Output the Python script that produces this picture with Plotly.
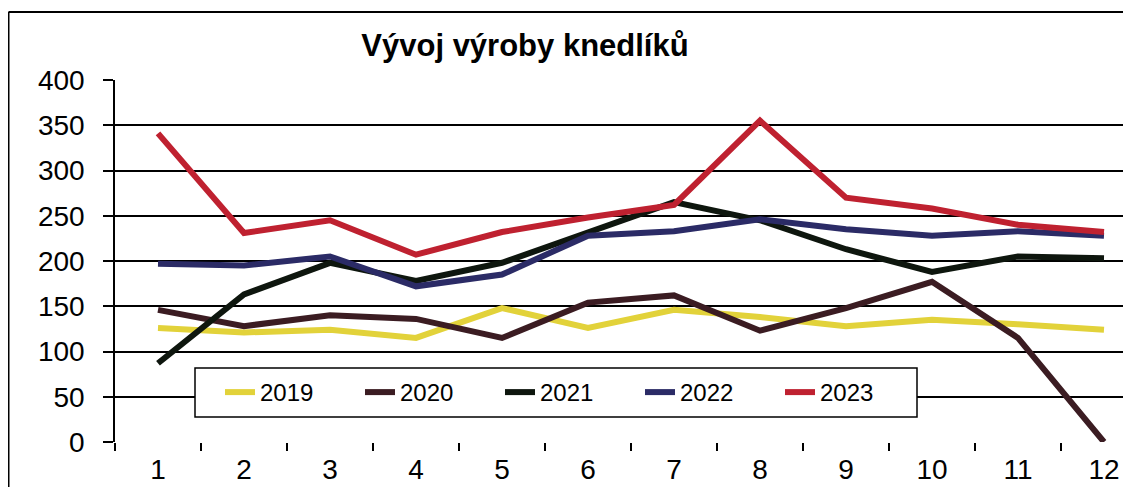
import plotly.graph_objects as go

months = [1, 2, 3, 4, 5, 6, 7, 8, 9, 10, 11, 12]
month_labels = ["1", "2", "3", "4", "5", "6", "7", "8", "9", "10", "11", "12"]

v2019 = [126, 121, 124, 115, 148, 126, 146, 138, 128, 135, 130, 124]
v2020 = [146, 128, 140, 136, 115, 154, 162, 123, 148, 177, 115, 0]
v2021 = [87, 163, 198, 178, 198, 232, 265, 245, 213, 188, 205, 203]
v2022 = [197, 195, 205, 172, 185, 228, 233, 246, 235, 228, 233, 228]
v2023 = [341, 231, 245, 207, 232, 248, 262, 355, 270, 258, 240, 232]

series = [
    ("2019", v2019, "#e2d23a"),
    ("2020", v2020, "#3b1c22"),
    ("2021", v2021, "#0e160e"),
    ("2022", v2022, "#2b2b66"),
    ("2023", v2023, "#bf2130"),
]

fig = go.Figure()
for name, vals, col in series:
    fig.add_trace(go.Scatter(x=months, y=vals, name=name, mode="lines",
                             line=dict(color=col, width=6)))

# page is offset by the 8px body margin; keep the figure inside the window
W, H = 1115, 479
L, T, B, R = 107, 72, 45, 0
pw, ph = W - L - R, H - T - B
SPACING = 86.0

def px_x(x):
    return (x - L) / pw

def px_y(y):
    return (H - B - y) / ph

fig.update_layout(
    width=W, height=H,
    margin=dict(l=L, r=R, t=T, b=B, autoexpand=False),
    paper_bgcolor="white", plot_bgcolor="white",
    font=dict(family="Liberation Sans, Arial, sans-serif", color="black"),
    title=dict(text="<b>Vývoj výroby knedlíků</b>", x=517 / W, xanchor="center",
               y=1 - 37 / H, yanchor="middle", font=dict(size=31, color="black")),
    showlegend=True,
    legend=dict(orientation="h", x=px_x(212), y=px_y(384.5), xanchor="left",
                yanchor="middle", bgcolor="rgba(0,0,0,0)", borderwidth=0,
                font=dict(size=24), entrywidth=95, entrywidthmode="pixels",
                tracegroupgap=0),
    xaxis=dict(range=[0.5, 0.5 + pw / SPACING], tickmode="array", tickvals=months,
               ticktext=month_labels, ticks="", showgrid=False, zeroline=False,
               showline=False, tickfont=dict(size=28), ticklabelstandoff=8,
               ticklabeloverflow="allow", automargin=False,
               minor=dict(ticks="outside", tickmode="linear", tick0=0.5, dtick=1,
                          ticklen=8, tickwidth=2, tickcolor="black", showgrid=False)),
    yaxis=dict(range=[0, 400], tickvals=[0, 50, 100, 150, 200, 250, 300, 350, 400],
               showgrid=True, gridcolor="black", gridwidth=1.5, zeroline=False,
               showline=True, linecolor="black", linewidth=1.5,
               ticks="outside", ticklen=10, tickcolor="black", tickwidth=1.5,
               ticklabelstandoff=13, tickfont=dict(size=28), automargin=False),
    shapes=[
        dict(type="line", xref="paper", yref="paper",
             x0=px_x(0.5), x1=px_x(W), y0=px_y(4), y1=px_y(4),
             line=dict(color="black", width=2), layer="below"),
        dict(type="line", xref="paper", yref="paper",
             x0=px_x(0.5), x1=px_x(0.5), y0=px_y(4), y1=px_y(H),
             line=dict(color="black", width=2), layer="below"),
        dict(type="rect", xref="paper", yref="paper",
             x0=px_x(187), x1=px_x(909), y0=px_y(409), y1=px_y(360),
             fillcolor="white", line=dict(color="black", width=1.5), layer="above"),
    ],
)

fig.write_html("out.html")
